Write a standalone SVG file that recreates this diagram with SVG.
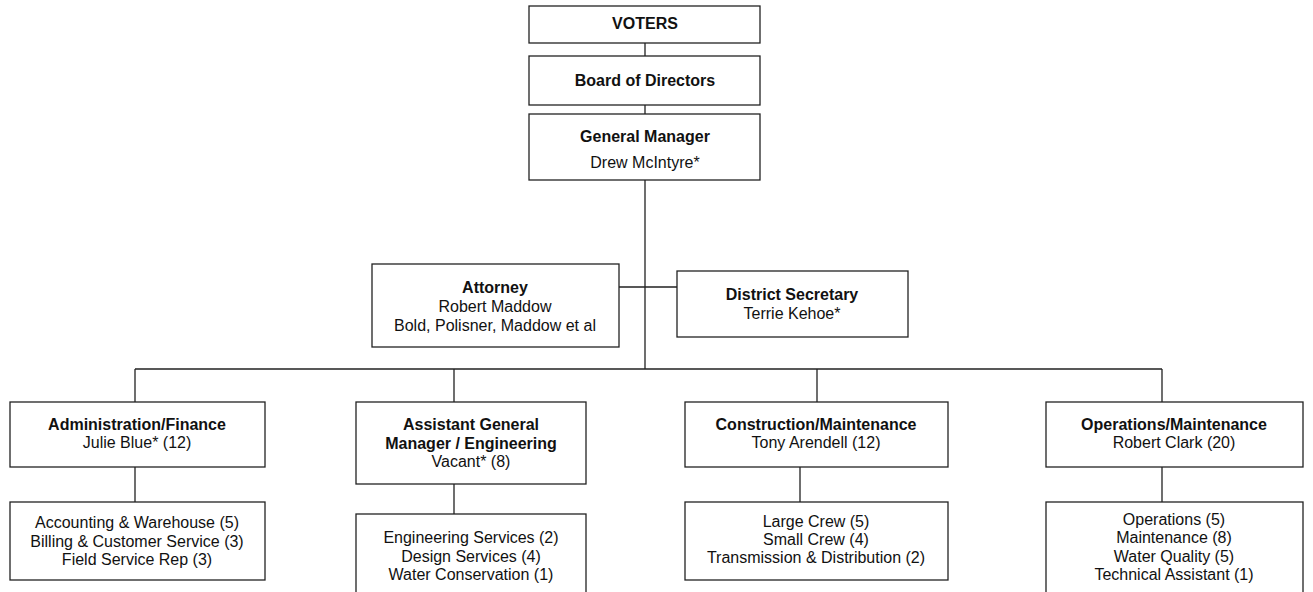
<svg xmlns="http://www.w3.org/2000/svg" width="1313" height="592" viewBox="0 0 1313 592">
<style>
.b{fill:#fff;stroke:#222;stroke-width:1.3}
.c{fill:none;stroke:#222;stroke-width:1.3}
text{font-family:"Liberation Sans",Arial,sans-serif;font-size:16px;fill:#111;text-anchor:middle}
.h{font-weight:bold}
</style>
<rect width="1313" height="592" fill="#fff"/>
<g id="connectors">
<path class="c" d="M645 43V56M645 105V114M645 180V369M619 287H678M135 369H1162M135 369V402M454 369V402M817 369V402M1162 369V402M135 467V502M454 484V514M800 467V502M1162 467V502"/>
</g>
<g id="voters"><rect class="b" x="529" y="6" width="231" height="37"/><text class="h" x="645" y="29">VOTERS</text></g>
<g id="board"><rect class="b" x="529" y="56" width="231" height="49"/><text class="h" x="645" y="86">Board of Directors</text></g>
<g id="gm"><rect class="b" x="529" y="114" width="231" height="66"/><text class="h" x="645" y="142">General Manager</text><text x="645" y="168">Drew McIntyre*</text></g>
<g id="attorney"><rect class="b" x="372" y="264" width="247" height="83"/><text class="h" x="495" y="293">Attorney</text><text x="495" y="312">Robert Maddow</text><text x="495" y="331">Bold, Polisner, Maddow et al</text></g>
<g id="secretary"><rect class="b" x="677" y="271" width="231" height="66"/><text class="h" x="792" y="300">District Secretary</text><text x="792" y="319">Terrie Kehoe*</text></g>
<g id="admin"><rect class="b" x="10" y="402" width="255" height="65"/><text class="h" x="137" y="430">Administration/Finance</text><text x="137" y="448">Julie Blue* (12)</text></g>
<g id="admin-units"><rect class="b" x="10" y="502" width="255" height="78"/><text x="137" y="528">Accounting &amp; Warehouse (5)</text><text x="137" y="547">Billing &amp; Customer Service (3)</text><text x="137" y="565">Field Service Rep (3)</text></g>
<g id="agm"><rect class="b" x="356" y="402" width="230" height="82"/><text class="h" x="471" y="430">Assistant General</text><text class="h" x="471" y="449">Manager / Engineering</text><text x="471" y="467">Vacant* (8)</text></g>
<g id="agm-units"><rect class="b" x="356" y="514" width="230" height="90"/><text x="471" y="543">Engineering Services (2)</text><text x="471" y="562">Design Services (4)</text><text x="471" y="580">Water Conservation (1)</text></g>
<g id="construction"><rect class="b" x="685" y="402" width="263" height="65"/><text class="h" x="816" y="430">Construction/Maintenance</text><text x="816" y="448">Tony Arendell (12)</text></g>
<g id="construction-units"><rect class="b" x="685" y="502" width="263" height="78"/><text x="816" y="527">Large Crew (5)</text><text x="816" y="545">Small Crew (4)</text><text x="816" y="563">Transmission &amp; Distribution (2)</text></g>
<g id="operations"><rect class="b" x="1046" y="402" width="257" height="65"/><text class="h" x="1174" y="430">Operations/Maintenance</text><text x="1174" y="448">Robert Clark (20)</text></g>
<g id="operations-units"><rect class="b" x="1046" y="502" width="257" height="100"/><text x="1174" y="525">Operations (5)</text><text x="1174" y="543">Maintenance (8)</text><text x="1174" y="562">Water Quality (5)</text><text x="1174" y="580">Technical Assistant (1)</text></g>
</svg>
